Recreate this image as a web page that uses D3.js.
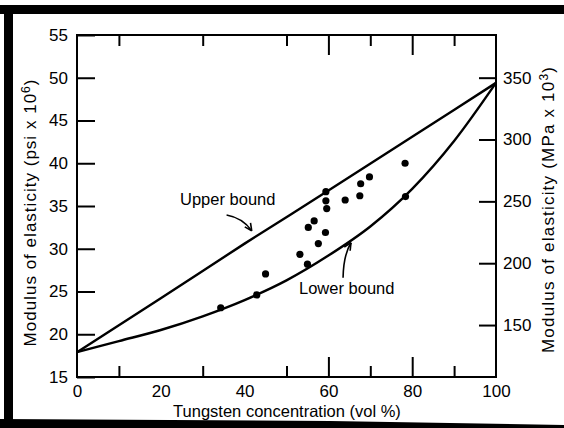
<!DOCTYPE html>
<html>
<head>
<meta charset="utf-8">
<script src="https://cdn.jsdelivr.net/npm/d3@7/dist/d3.min.js"></script>
<style>
  body { margin: 0; background: #fff; }
  svg { display: block; font-family: "Liberation Sans", Arial, sans-serif; }
</style>
</head>
<body>
<div id="chart"></div>
<script>
// values (vol % W, modulus in psi x 10^6)
var upperVol = [0, 20, 40, 60, 80, 100];
var upperE = [17.9, 24.2, 30.6, 36.8, 43.1, 49.4];
var lowerVol = [0, 10, 20, 30, 40, 50, 60, 70, 80, 90, 100];
var lowerE = [17.9, 19.2, 20.5, 22.1, 24.0, 26.3, 29.2, 32.6, 37.0, 42.6, 49.4];
var pointVol = [34.3, 42.9, 45.0, 53.2, 55.0, 55.2, 56.6, 57.6, 59.3, 59.4, 59.4, 59.6, 64.0, 67.5, 67.7, 69.8, 78.3, 78.4];
var pointE = [23.1, 24.6, 27.05, 29.35, 28.2, 32.5, 33.25, 30.6, 31.9, 36.67, 35.6, 34.7, 35.7, 36.2, 37.6, 38.4, 40.0, 36.1];
var volTicks = [0, 20, 40, 60, 80, 100];
var volMinorLong = [60, 80];
var volMinorShort = [10, 30, 50, 70, 90];
var psiTicks = [15, 20, 25, 30, 35, 40, 45, 50, 55];
var mpaTicks = [150, 200, 250, 300, 350];

(function () {
  var W = 564, H = 428;
  var svg = d3.select("#chart").append("svg")
    .attr("width", W).attr("height", H);

  var x = d3.scaleLinear().domain([0, 100]).range([77, 496]);
  var y = d3.scaleLinear().domain([15, 55]).range([377, 35]);
  var yR = d3.scaleLinear().domain([108, 384.5]).range([377, 35]);

  // scan border
  svg.append("rect").attr("x", 0).attr("y", 5).attr("width", W).attr("height", 9).attr("fill", "#000");
  svg.append("rect").attr("x", 4).attr("y", 5).attr("width", 9).attr("height", H - 5).attr("fill", "#000");
  svg.append("path").attr("d", "M0,419L330,421L564,425L564,428L0,428Z").attr("fill", "#000");

  function style(g, size) {
    g.attr("font-size", size).attr("font-family", null).attr("color", "#000");
    g.select(".domain").remove();
    g.selectAll(".tick line").attr("stroke-width", 2);
    return g;
  }

  svg.append("g").attr("transform", "translate(77,0)")
    .call(d3.axisLeft(y).tickValues(psiTicks).tickSize(-18).tickPadding(9))
    .call(style, 17);
  svg.append("g").attr("transform", "translate(496,0)")
    .call(d3.axisRight(yR).tickValues(mpaTicks).tickSize(-17).tickPadding(7))
    .call(style, 17);
  svg.append("g").attr("transform", "translate(0,377)")
    .call(d3.axisBottom(x).tickValues(volTicks).tickSize(0).tickPadding(8))
    .call(style, 17);

  [[volMinorLong, 20], [volMinorShort, 11]].forEach(function (t) {
    svg.append("g").attr("transform", "translate(0,377)")
      .call(d3.axisBottom(x).tickValues(t[0]).tickSize(-t[1]).tickFormat(""))
      .call(style, 17);
    svg.append("g").attr("transform", "translate(0,35)")
      .call(d3.axisTop(x).tickValues(t[0]).tickSize(-t[1]).tickFormat(""))
      .call(style, 17);
  });

  svg.append("rect").attr("x", 77).attr("y", 35).attr("width", 419).attr("height", 342)
    .attr("fill", "none").attr("stroke", "#000").attr("stroke-width", 2);

  var line = d3.line()
    .x(function (d) { return x(d[0]); })
    .y(function (d) { return y(d[1]); })
    .curve(d3.curveMonotoneX);
  svg.append("path").datum(d3.zip(upperVol, upperE)).attr("d", line)
    .attr("fill", "none").attr("stroke", "#000").attr("stroke-width", 2.4);
  svg.append("path").datum(d3.zip(lowerVol, lowerE)).attr("d", line)
    .attr("fill", "none").attr("stroke", "#000").attr("stroke-width", 2.4);

  svg.append("g").selectAll("circle").data(d3.zip(pointVol, pointE)).join("circle")
    .attr("cx", function (d) { return x(d[0]); })
    .attr("cy", function (d) { return y(d[1]); })
    .attr("r", 3.6).attr("fill", "#000");

  // curved call-out arrows with open heads
  function arrow(x0, y0, cx, cy, x1, y1) {
    svg.append("path")
      .attr("d", "M" + x0 + "," + y0 + "Q" + cx + "," + cy + " " + x1 + "," + y1)
      .attr("fill", "none").attr("stroke", "#000").attr("stroke-width", 1.6);
    var a = Math.atan2(y1 - cy, x1 - cx), L = 8;
    [-0.45, 0.45].forEach(function (s) {
      svg.append("line").attr("x1", x1).attr("y1", y1)
        .attr("x2", x1 - L * Math.cos(a + s)).attr("y2", y1 - L * Math.sin(a + s))
        .attr("stroke", "#000").attr("stroke-width", 1.6);
    });
  }
  arrow(x(35.7), y(33.95), x(39.6), y(33.6), x(41.7), y(32.1));
  arrow(x(63.5), y(26.6), x(63.6), y(29.3), x(65.4), y(30.7));

  svg.append("text").attr("x", 180).attr("y", 205).attr("font-size", 16.5).text("Upper bound");
  svg.append("text").attr("x", 299).attr("y", 294).attr("font-size", 16.5).text("Lower bound");

  svg.append("text").attr("x", 287).attr("y", 417).attr("font-size", 16.5)
    .attr("text-anchor", "middle").text("Tungsten concentration (vol %)");

  function yTitle(cx, cy, unit, exp, len) {
    var t = svg.append("text").attr("transform", "translate(" + cx + "," + cy + ") rotate(-90)")
      .attr("text-anchor", "middle").attr("dy", "0.35em").attr("font-size", 17)
      .attr("textLength", len).attr("lengthAdjust", "spacing");
    t.append("tspan").text("Modulus of elasticity (" + unit + " x 10");
    t.append("tspan").attr("dy", -6).attr("font-size", 12).text(exp);
    t.append("tspan").attr("dy", 6).text(")");
  }
  yTitle(30, 213, "psi", "6", 267);
  yTitle(548, 210, "MPa", "3", 286);
})();
</script>
</body>
</html>
